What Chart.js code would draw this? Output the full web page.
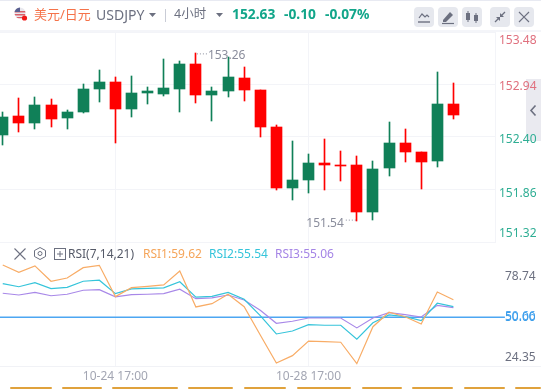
<!DOCTYPE html>
<html>
<head>
<meta charset="utf-8">
<script src="https://cdn.jsdelivr.net/npm/chart.js@4/dist/chart.umd.min.js"></script>
<style>
  html, body { margin: 0; padding: 0; background: #fff; overflow: hidden; }
  body { width: 541px; height: 389px; position: relative; font-family: "Noto Sans", "Noto Sans CJK SC", sans-serif; }
  canvas { position: absolute; left: 0; top: 0; }
  .t { position: absolute; white-space: nowrap; line-height: 16px; }
  .btn { position: absolute; top: 7px; width: 20px; height: 20px; background: #e6e8ee; border-radius: 4px; }
  .btn svg, .ic { position: absolute; left: 0; top: 0; }
  .bar { position: absolute; }
  .dash { position: absolute; top: 387px; height: 2px; background: #e0a23c; border-radius: 1px; }
</style>
</head>
<body>
<div class="bar" style="left:526px;top:79px;width:15px;height:62px;background:#eaeaf0"></div>
<canvas id="chart" width="541" height="389"></canvas>

<div class="bar" style="left:0;top:0;width:541px;height:1px;background:#e8eaf2"></div>
<div class="bar" style="left:0;top:30px;width:541px;height:2px;background:#f4f5f9"></div>
<div class="bar" style="left:0;top:366px;width:541px;height:1px;background:#f1f2f6"></div>

<svg class="ic" style="left:13px;top:6px" width="16" height="16">
  <clipPath id="flag"><circle cx="7" cy="7" r="5.5"/></clipPath>
  <g clip-path="url(#flag)">
    <rect width="14" height="14" fill="#e8e8ee"/>
    <rect y="5" width="14" height="1.5" fill="#d9606a"/>
    <rect y="8" width="14" height="1.5" fill="#d9606a"/>
    <rect y="11" width="14" height="1.5" fill="#d9606a"/>
    <rect width="7" height="6" fill="#5a6090"/>
  </g>
  <circle cx="11.5" cy="12" r="2.6" fill="#f01818"/>
</svg>
<div class="t" style="left:34px;top:6px;font-size:13px;color:#f5734a">美元/日元</div>
<div class="t" style="left:96px;top:7px;font-size:14px;color:#6c7080">USDJPY</div>
<svg class="ic" style="left:149px;top:13px" width="7" height="5"><path d="M0 0H7L3.5 4Z" fill="#6c7080"/></svg>
<div class="bar" style="left:165px;top:9px;width:1px;height:13px;background:#c9ccd6"></div>
<div class="t" style="left:174px;top:6px;font-size:12.5px;color:#6c7080">4小时</div>
<svg class="ic" style="left:216px;top:13px" width="7" height="5"><path d="M0 0H7L3.5 4Z" fill="#6c7080"/></svg>
<div class="t" style="left:232px;top:6px;font-size:13.8px;font-weight:700;color:#12a68a">152.63</div>
<div class="t" style="left:284px;top:6px;font-size:13.8px;font-weight:700;color:#12a68a">-0.10</div>
<div class="t" style="left:325px;top:6px;font-size:13.8px;font-weight:700;color:#12a68a">-0.07%</div>

<div class="btn" style="left:414px"><svg width="20" height="20"><path d="M5 11L8 7L11 10L13 8L15 10" fill="none" stroke="#6c7080" stroke-width="1.2"/><path d="M4 15H16" stroke="#6c7080" stroke-width="1.4"/></svg></div>
<div class="btn" style="left:438px"><svg width="20" height="20"><path d="M5 13L12 5L15 8L8 15H5Z" fill="#6c7080"/><path d="M4 16.5H16" stroke="#6c7080" stroke-width="1.2"/></svg></div>
<div class="btn" style="left:462px"><svg width="20" height="20"><path d="M6 4V15M14 6V16" stroke="#6c7080"/><rect x="4" y="6" width="4" height="7" fill="#6c7080"/><rect x="12" y="8" width="4" height="6" fill="#6c7080"/></svg></div>
<div class="btn" style="left:490px"><svg width="20" height="20"><path d="M5 15L9 11M15 5L11 9" stroke="#6c7080" stroke-width="1.3"/><path d="M6 10H10V14Z M10 6V10H14Z" fill="#6c7080"/></svg></div>
<div class="btn" style="left:514px"><svg width="20" height="20"><path d="M5 5L15 15M15 5L5 15" stroke="#6c7080" stroke-width="1.2"/></svg></div>

<svg class="ic" style="left:529px;top:104px" width="9" height="13"><path d="M6.5 1.5L2 6.5L6.5 11.5" fill="none" stroke="#6c7080" stroke-width="1.6"/></svg>

<svg class="ic" style="left:13px;top:247px" width="14" height="14"><path d="M1.5 1.5L12.5 12.5M12.5 1.5L1.5 12.5" stroke="#6c7080" stroke-width="1.1"/></svg>
<svg class="ic" style="left:33px;top:246px" width="14" height="15"><path d="M7 1.5L12.5 4.5V10.5L7 13.5L1.5 10.5V4.5Z" fill="none" stroke="#6c7080"/><circle cx="7" cy="7.5" r="2" fill="none" stroke="#6c7080"/></svg>
<svg class="ic" style="left:54px;top:248px" width="12" height="12"><rect x="0.5" y="0.5" width="11" height="11" fill="none" stroke="#6c7080"/><path d="M3 6H9M6 3V9" stroke="#6c7080"/></svg>
<div class="t" style="left:68px;top:246px;font-size:12px;color:#555a68">RSI(7,14,21)</div>
<div class="t" style="left:143px;top:246px;font-size:12px;color:#f5a55a">RSI1:59.62</div>
<div class="t" style="left:209px;top:246px;font-size:12px;color:#35c4da">RSI2:55.54</div>
<div class="t" style="left:275px;top:246px;font-size:12px;color:#a585e6">RSI3:55.06</div>

<div class="dash" style="left:10px;width:42px"></div>
<div class="dash" style="left:62px;width:40px"></div>
<div class="dash" style="left:112px;width:66px"></div>
<div class="dash" style="left:188px;width:45px"></div>
<div class="dash" style="left:244px;width:42px"></div>
<div class="dash" style="left:297px;width:54px"></div>
<div class="dash" style="left:362px;width:40px"></div>
<div class="dash" style="left:412px;width:41px"></div>
<div class="dash" style="left:464px;width:41px"></div>
<div class="dash" style="left:515px;width:26px"></div>

<script>
const times = [
  '10-23 13:00', '10-23 17:00', '10-23 21:00', '10-24 01:00', '10-24 05:00', '10-24 09:00', '10-24 13:00',
  '10-24 17:00', '10-24 21:00', '10-25 01:00', '10-25 05:00', '10-25 09:00', '10-25 13:00', '10-25 17:00',
  '10-25 21:00', '10-28 01:00', '10-28 05:00', '10-28 09:00', '10-28 13:00', '10-28 17:00', '10-28 21:00',
  '10-29 01:00', '10-29 05:00', '10-29 09:00', '10-29 13:00', '10-29 17:00', '10-29 21:00', '10-30 01:00',
  '10-30 05:00',
];
const opens = [
  152.42, 152.615, 152.543, 152.728, 152.594, 152.656, 152.892, 152.964, 152.686, 152.851,
  152.84, 152.892, 153.148, 152.83, 152.871, 153.005, 152.881, 152.50, 151.875, 151.957,
  152.132, 152.112, 152.112, 151.629, 152.08, 152.337, 152.245, 152.153, 152.738,
];
const closes = [
  152.604, 152.543, 152.728, 152.584, 152.656, 152.892, 152.964, 152.686, 152.851, 152.871,
  152.902, 153.148, 152.83, 152.871, 153.015, 152.881, 152.50, 151.875, 151.957, 152.132,
  152.112, 152.101, 151.629, 152.07, 152.337, 152.245, 152.142, 152.738, 152.63,
];
const highs = [
  152.656, 152.80, 152.81, 152.79, 152.676, 152.943, 153.087, 153.015, 153.025, 152.912,
  153.20, 153.18, 153.26, 152.912, 153.22, 153.118, 152.881, 152.522, 152.358, 152.224,
  152.379, 152.255, 152.204, 152.153, 152.553, 152.481, 152.245, 153.066, 152.953,
];
const lows = [
  152.317, 152.453, 152.481, 152.50, 152.481, 152.645, 152.758, 152.337, 152.604, 152.738,
  152.82, 152.656, 152.748, 152.563, 152.81, 152.769, 152.40, 151.855, 151.752, 151.824,
  151.855, 151.947, 151.54, 151.547, 151.998, 152.142, 151.865, 152.09, 152.584,
];
const rsi1 = [
  85.4, 80.5, 84.8, 74.4, 76.6, 83.6, 85.2, 64.0, 70.1, 71.0, 71.9, 81.4, 57.0, 59.2, 65.6,
  57.2, 38.0, 19.0, 24.0, 33.9, 33.5, 33.1, 18.6, 43.6, 53.4, 50.4, 45.5, 67.1, 61.9,
];
const rsi2 = [
  72.8, 70.7, 73.4, 69.4, 70.3, 74.4, 75.1, 66.0, 69.2, 69.6, 69.9, 74.1, 63.6, 64.2, 66.9,
  62.2, 51.1, 38.7, 40.7, 45.0, 44.6, 44.6, 35.1, 46.3, 51.6, 50.4, 47.7, 59.5, 57.2,
];
const rsi3 = [
  66.3, 65.1, 66.9, 64.6, 65.6, 68.3, 68.7, 63.8, 65.3, 65.6, 66.0, 69.0, 62.6, 63.1, 65.1,
  61.7, 54.7, 45.9, 47.3, 49.5, 49.5, 49.5, 42.8, 49.5, 53.1, 51.8, 50.2, 58.1, 56.5,
];
const timeTicks = [7, 19];
const priceTicks = [153.48, 152.94, 152.40, 151.86, 151.32];
const rsiTicks = [78.74, 50.66, 50.00, 24.35];
const lastClose = 152.63;

const RED = '#ff0000';
const GREEN = '#108058';
const GRID = '#f3f4f8';

const candleColors = opens.map((o, i) => (closes[i] >= o ? GREEN : RED));
const indexes = times.map((_, i) => i);
const series = (arr) => arr.map((v, i) => ({ x: i, y: v }));

// pixel nudges for the axis labels, the originals don't sit on their ticks
const labelNudge = {
  y: { dx: 2, dy: [9, 2, 3, 4, -8] },
  yRsi: { dx: 0, dy: [2, 0, 0, 2] },
};

const tweaks = {
  id: 'tweaks',
  // snap candles to whole pixels so that they come out crisp
  afterDatasetsUpdate(chart) {
    chart.data.datasets.forEach((ds, d) => {
      if (ds.type !== 'bar') return;
      for (const el of chart.getDatasetMeta(d).data) {
        el.x = Math.floor(el.x) + 0.5;
        el.y = Math.round(el.y);
        el.base = Math.round(el.base);
        if (el.y === el.base) el.base += 1;
      }
    });
  },
  afterLayout(chart) {
    for (const id of Object.keys(labelNudge)) {
      chart.scales[id].getLabelItems().forEach((item, i) => {
        item.options.translation[0] += labelNudge[id].dx;
        item.options.translation[1] += labelNudge[id].dy[i];
      });
    }
  },
  // high and low notes with their dotted leaders
  afterDatasetsDraw(chart) {
    const { ctx, scales } = chart;
    const hi = Math.max(...highs);
    const lo = Math.min(...lows);
    const hiX = scales.x.getPixelForValue(highs.indexOf(hi));
    const loX = scales.x.getPixelForValue(lows.indexOf(lo));
    const hiY = scales.y.getPixelForValue(hi);
    const loY = scales.y.getPixelForValue(lo);
    ctx.save();
    ctx.strokeStyle = '#8a8d9c';
    ctx.setLineDash([1, 2]);
    ctx.beginPath();
    ctx.moveTo(hiX + 1, hiY + 0.5);
    ctx.lineTo(hiX + 11, hiY + 0.5);
    ctx.moveTo(loX - 1, loY - 0.5);
    ctx.lineTo(loX - 11, loY - 0.5);
    ctx.stroke();
    ctx.setLineDash([]);
    ctx.fillStyle = '#8a8d9c';
    ctx.font = '12px "Noto Sans"';
    ctx.textBaseline = 'middle';
    ctx.textAlign = 'left';
    ctx.fillText(hi.toFixed(2), hiX + 12, hiY + 2);
    ctx.textAlign = 'right';
    ctx.fillText(lo.toFixed(2), loX - 13, loY + 3);
    ctx.restore();
  },
};

new Chart(document.getElementById('chart'), {
  data: {
    datasets: [
      {
        type: 'bar',
        yAxisID: 'y',
        data: indexes.map((i) => ({ x: i, y: [lows[i], highs[i]] })),
        backgroundColor: candleColors,
        barThickness: 1,
        grouped: false,
        order: 2,
      },
      {
        type: 'bar',
        yAxisID: 'y',
        data: indexes.map((i) => ({ x: i, y: [opens[i], closes[i]] })),
        backgroundColor: candleColors,
        barThickness: 11,
        grouped: false,
        order: 1,
      },
      {
        type: 'line',
        yAxisID: 'yRsi',
        data: [{ x: -1, y: 50 }, { x: 31.2, y: 50 }],
        borderColor: '#4da6f2',
        borderWidth: 1.5,
        pointRadius: 0,
        clip: false,
        order: 4,
      },
      {
        type: 'line',
        yAxisID: 'yRsi',
        data: series(rsi1),
        borderColor: '#f8ac66',
        borderWidth: 1.2,
        pointRadius: 0,
        tension: 0,
        order: 3,
      },
      {
        type: 'line',
        yAxisID: 'yRsi',
        data: series(rsi2),
        borderColor: '#35c4da',
        borderWidth: 1.2,
        pointRadius: 0,
        tension: 0,
        order: 3,
      },
      {
        type: 'line',
        yAxisID: 'yRsi',
        data: series(rsi3),
        borderColor: '#a888e8',
        borderWidth: 1.2,
        pointRadius: 0,
        tension: 0,
        order: 3,
      },
    ],
  },
  options: {
    responsive: false,
    animation: false,
    layout: { padding: { top: 32 } },
    plugins: { legend: { display: false }, tooltip: { enabled: false } },
    scales: {
      x: {
        type: 'linear',
        position: 'bottom',
        offset: false,
        min: -0.1702,
        max: 30.585,
        afterBuildTicks: (scale) => { scale.ticks = timeTicks.map((v) => ({ value: v })); },
        afterFit: (scale) => { scale.height = 23; },
        grid: { color: GRID, drawTicks: false, offset: false },
        border: { display: false },
        ticks: {
          callback: (v) => times[v],
          autoSkip: false,
          maxRotation: 0,
          padding: 3,
          color: '#a3a6b3',
          font: { family: 'Noto Sans', size: 12 },
        },
      },
      y: {
        position: 'right',
        stack: 'panes',
        stackWeight: 210,
        min: 151.32,
        max: 153.48,
        afterBuildTicks: (scale) => { scale.ticks = priceTicks.map((v) => ({ value: v })); },
        afterFit: (scale) => { scale.width = 46; },
        grid: { color: GRID, drawTicks: false },
        border: { color: GRID },
        ticks: {
          callback: (v) => v.toFixed(2),
          autoSkip: false,
          padding: 2,
          color: (ctx) => (ctx.tick.value > lastClose ? '#e0707e' : '#2fae94'),
          font: { family: 'Noto Sans', size: 12 },
        },
      },
      yRsi: {
        position: 'right',
        stack: 'panes',
        stackWeight: 124,
        min: 17,
        max: 101,
        afterBuildTicks: (scale) => { scale.ticks = rsiTicks.map((v) => ({ value: v })); },
        afterFit: (scale) => { scale.width = 46; },
        grid: { display: false },
        border: { display: false },
        ticks: {
          callback: (v) => v.toFixed(2),
          autoSkip: false,
          padding: 2,
          color: (ctx) => (ctx.tick.value > 50 && ctx.tick.value < 51 ? '#4da6f2' : ctx.tick.value === 50 ? '#3c9eea' : '#6c7080'),
          font: { family: 'Noto Sans', size: 12 },
        },
      },
    },
  },
  plugins: [tweaks],
});
</script>
</body>
</html>
